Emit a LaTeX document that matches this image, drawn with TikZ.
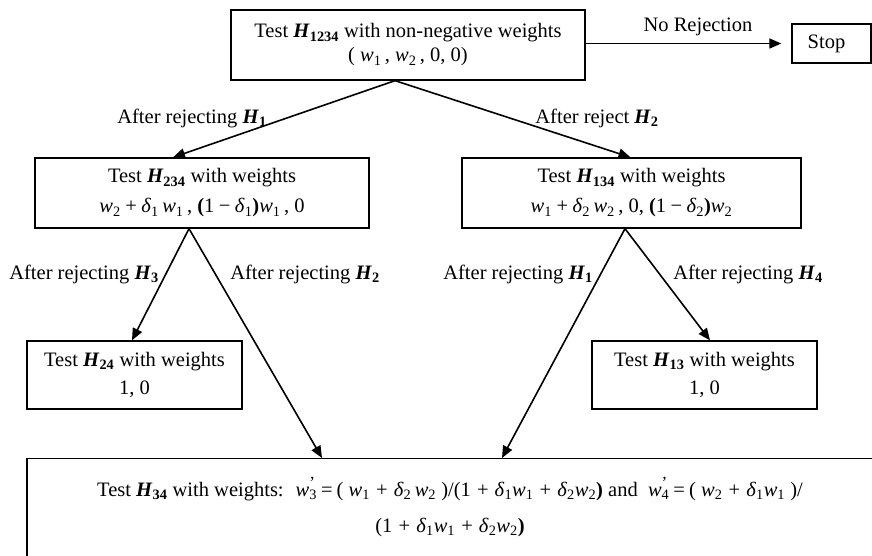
\documentclass[tikz,border=0pt]{standalone}
\usepackage{fontspec}
\setmainfont{Liberation Serif}
\usetikzlibrary{arrows.meta}
\newcommand{\Hb}[1]{\textbf{\textit{H}}\textsubscript{\textbf{#1}}}
\newcommand{\va}[1]{\textit{w}\textsubscript{#1}}
\newcommand{\vpr}[1]{\textit{w}\makebox[0pt][l]{\raisebox{0.38em}{\fontsize{17}{17}\selectfont\char"27}}\textsubscript{#1}}
\newcommand{\dd}[1]{\textit{δ}\textsubscript{#1}}
\newcommand{\pl}{\hspace{0.22em}+\hspace{0.22em}}
\newcommand{\bpl}{\hspace{0.3em}+\hspace{0.3em}}
\newcommand{\beq}{\hspace{0.2em}=\hspace{0.2em}}
\newcommand{\mi}{\hspace{0.22em}−\hspace{0.22em}}
\newcommand{\bp}[1]{\textbf{#1}}
\begin{document}
\begin{tikzpicture}[x=1pt,y=-1pt,
  font=\fontsize{20.5}{24}\selectfont,
  box/.style={draw, line width=1.3pt, align=center, inner sep=0pt},
  arr/.style={-{Triangle[length=12pt,width=10pt]}, line width=1.6pt},
  lab/.style={inner sep=0pt}]
\useasboundingbox (0,0) rectangle (872,556);
% boxes
\node[box, minimum width=354pt, minimum height=70pt] (top) at (408,45)
  {Test \Hb{1234} with non-negative weights\\ ( \va{1}\,, \va{2}\,, 0, 0)};
\node[box, minimum width=79pt, minimum height=39pt] (stop) at (831.5,43.5)
  {\hspace*{-10pt}Stop};
\node[box, minimum width=334pt, minimum height=70pt] (h234) at (202,193)
  {Test \Hb{234} with weights\\[6pt] \va{2}\pl\dd{1}\,\va{1}\,, \bp{(}1\mi\dd{1}\bp{)}\va{1}\,, 0};
\node[box, minimum width=339pt, minimum height=70pt] (h134) at (631.5,193)
  {Test \Hb{134} with weights\\[6pt] \va{1}\pl\dd{2}\,\va{2}\,, 0, \bp{(}1\mi\dd{2}\bp{)}\va{2}};
\node[box, minimum width=215pt, minimum height=68pt] (h24) at (134.5,375)
  {Test \Hb{24} with weights\\[4pt] 1, 0};
\node[box, minimum width=225pt, minimum height=68pt] (h13) at (704.5,375)
  {Test \Hb{13} with weights\\[4pt] 1, 0};
\node[box, minimum width=846pt, minimum height=140pt, anchor=north] (bot) at (450,458) {};
\node[lab, align=center] (bottext) at (450,507)
  {Test \Hb{34} with weights:~ \vpr{3}\beq( \va{1}\bpl\dd{2}\,\va{2} )/(1\bpl\dd{1}\va{1}\bpl\dd{2}\va{2}\bp{)} and~ \vpr{4}\beq( \va{2}\bpl\dd{1}\va{1} )/\\[12pt]
   (1\bpl\dd{1}\va{1}\bpl\dd{2}\va{2}\bp{)}};
% labels
\node[lab] (l0) at (698,27) {No Rejection};
\node[lab] (l1) at (192,118) {After rejecting \Hb{1}};
\node[lab] (l2) at (597,118) {After reject \Hb{2}};
\node[lab] (l3) at (84,274) {After rejecting \Hb{3}};
\node[lab] (l4) at (305,274) {After rejecting \Hb{2}};
\node[lab] (l5) at (518,274) {After rejecting \Hb{1}};
\node[lab] (l6) at (748,274) {After rejecting \Hb{4}};
% connectors
\draw[arr, shorten >=10pt] (top.east |- stop.west) -- (stop.west);
\draw[arr] ([xshift=-13pt]top.south) -- ([xshift=-29pt]h234.north);
\draw[arr] ([xshift=-13pt]top.south) -- ([xshift=-1pt]h134.north);
\draw[arr] ([xshift=-13pt]h234.south) -- ([xshift=-2.5pt]h24.north);
\draw[arr] ([xshift=-13pt]h234.south) -- ([xshift=-128pt]bot.north);
\draw[arr] ([xshift=-6.5pt]h134.south) -- ([xshift=52pt]bot.north);
\draw[arr] ([xshift=-6.5pt]h134.south) -- ([xshift=5.5pt]h13.north);
\end{tikzpicture}
\end{document}
